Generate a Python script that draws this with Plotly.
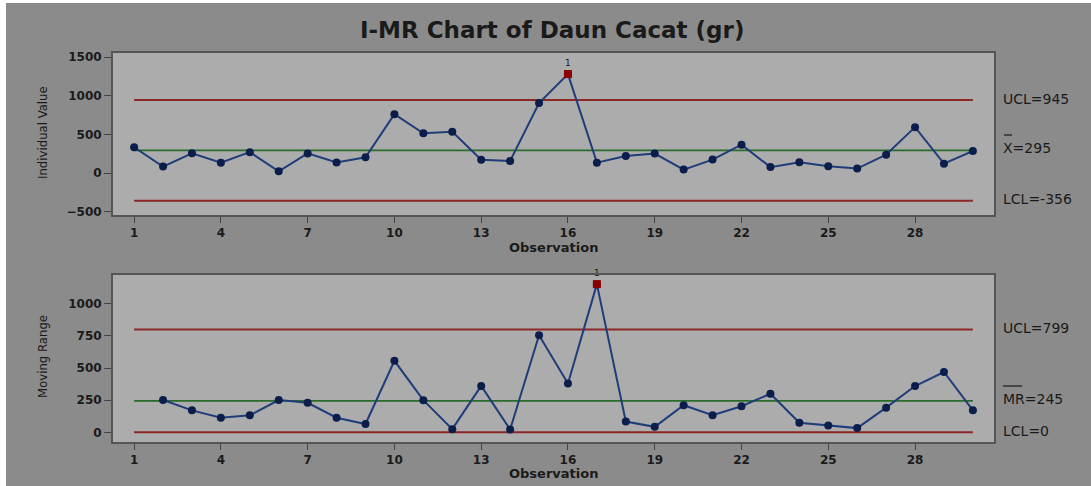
import plotly.graph_objects as go

# ---- data ----
observations = list(range(1, 31))
individual = [335, 86, 257, 137, 272, 26, 256, 138, 206, 762,
              516, 535, 175, 158, 907, 1280, 137, 222, 254, 47,
              176, 368, 79, 141, 90, 60, 240, 595, 124, 287]
mr_obs = list(range(2, 31))
moving_range = [251, 171, 114, 132, 251, 230, 114, 65, 556, 250,
                25, 361, 22, 755, 380, 1152, 84, 43, 211, 133,
                203, 300, 74, 54, 33, 192, 360, 469, 171]
i_limits = {"UCL": 945, "CL": 295, "LCL": -356}
mr_limits = {"UCL": 799, "CL": 245, "LCL": 0}
flag_i = [16]
flag_mr = [17]
xtick_vals = [1, 4, 7, 10, 13, 16, 19, 22, 25, 28]
i_yticks = [-500, 0, 500, 1000, 1500]
mr_yticks = [0, 250, 500, 750, 1000]

W, H = 1091, 486
L, R, T, B = 113, 97, 53, 44
PW, PH = W - L - R, H - T - B

def py(p):  # pixel y -> paper y
    return (H - B - p) / PH

def px(p):  # pixel x -> paper x
    return (p - L) / PW

OUTER = "#8b8b8b"
INNER = "#acacac"
LINE_C = "#1f3d7a"
MARK_C = "#0b1d4a"
RED = "#8b2727"
GREEN = "#2a6a2a"
TXT = "#1a1a1a"
DJ = "DejaVu Sans, Open Sans, sans-serif"
TICKFONT = dict(family=DJ, size=12, color=TXT, weight="bold")
NARROW = "Liberation Sans Narrow, DejaVu Sans Condensed, Arial Narrow, sans-serif"

fig = go.Figure()

# Individual chart
fig.add_trace(go.Scatter(x=observations, y=individual, mode="lines+markers",
                         line=dict(color=LINE_C, width=2),
                         marker=dict(color=MARK_C, size=8, symbol="circle"),
                         xaxis="x", yaxis="y", showlegend=False))
fig.add_trace(go.Scatter(x=flag_i, y=[individual[o - 1] for o in flag_i], mode="markers+text",
                         marker=dict(color="#8b0000", size=8, symbol="square"),
                         text=["1"] * len(flag_i), textposition="top center",
                         textfont=dict(size=9, color=TXT, family=DJ), cliponaxis=False,
                         xaxis="x", yaxis="y", showlegend=False))
# MR chart
fig.add_trace(go.Scatter(x=mr_obs, y=moving_range, mode="lines+markers",
                         line=dict(color=LINE_C, width=2),
                         marker=dict(color=MARK_C, size=8, symbol="circle"),
                         xaxis="x2", yaxis="y2", showlegend=False))
fig.add_trace(go.Scatter(x=flag_mr, y=[moving_range[o - 2] for o in flag_mr], mode="markers+text",
                         marker=dict(color="#8b0000", size=8, symbol="square"),
                         text=["1"] * len(flag_mr), textposition="top center",
                         textfont=dict(size=9, color=TXT, family=DJ), cliponaxis=False,
                         xaxis="x2", yaxis="y2", showlegend=False))

shapes = []
for key, col, w in (("UCL", RED, 2), ("CL", GREEN, 1.6), ("LCL", RED, 2)):
    shapes.append(dict(type="line", xref="x", yref="y", x0=1, x1=30,
                       y0=i_limits[key], y1=i_limits[key],
                       line=dict(color=col, width=w), layer="below"))
    shapes.append(dict(type="line", xref="x2", yref="y2", x0=1, x1=30,
                       y0=mr_limits[key], y1=mr_limits[key],
                       line=dict(color=col, width=w), layer="below"))
# white strips at left / top edge of the picture
shapes.append(dict(type="rect", xref="paper", yref="paper", x0=px(0), x1=px(6),
                   y0=py(H), y1=py(0), fillcolor="white", line=dict(width=0)))
shapes.append(dict(type="rect", xref="paper", yref="paper", x0=px(0), x1=px(W),
                   y0=py(3), y1=py(0), fillcolor="white", line=dict(width=0)))
# bars over X and MR
shapes.append(dict(type="line", xref="paper", yref="paper", x0=px(1004), x1=px(1012),
                   y0=py(135), y1=py(135), line=dict(color=TXT, width=1.2)))
shapes.append(dict(type="line", xref="paper", yref="paper", x0=px(1003), x1=px(1022),
                   y0=py(386), y1=py(386), line=dict(color=TXT, width=1.2)))

RFONT = dict(family=DJ, size=14, color=TXT)
ann = []
def right_label(text, yref, yval, shift=0):
    ann.append(dict(text=text, xref="paper", yref=yref, x=px(1001), y=yval,
                    xanchor="left", yanchor="middle", showarrow=False,
                    yshift=shift, font=RFONT))

right_label("UCL=945", "y", i_limits["UCL"], 1)
right_label("X=295", "y", i_limits["CL"], 2)
right_label("LCL=-356", "y", i_limits["LCL"], 2)
right_label("UCL=799", "y2", mr_limits["UCL"], 2)
right_label("MR=245", "y2", mr_limits["CL"], 2)
right_label("LCL=0", "y2", mr_limits["LCL"], 1)

for text, ypix in (("Individual Value", 133), ("Moving Range", 357)):
    ann.append(dict(text=text, xref="paper", yref="paper", x=px(42), y=py(ypix),
                    xanchor="center", yanchor="middle", textangle=-90, showarrow=False,
                    font=dict(family=NARROW, size=13, color=TXT)))
for ypix in (247, 474):
    ann.append(dict(text="Observation", xref="paper", yref="paper", x=px(553.5), y=py(ypix),
                    xanchor="center", yanchor="middle", showarrow=False,
                    font=dict(family=DJ, size=13, color=TXT, weight="bold")))
ann.append(dict(text="I-MR Chart of Daun Cacat (gr)", xref="paper", yref="paper",
                x=px(552), y=py(30), xanchor="center", yanchor="middle", showarrow=False,
                font=dict(family=DJ, size=23, color=TXT, weight="bold")))

xcommon = dict(range=[0.27, 30.73], tickvals=xtick_vals, ticks="outside", ticklen=6,
               tickcolor="#444", tickwidth=1, showline=True, linecolor="#555", linewidth=2,
               mirror=True, showgrid=False, zeroline=False, tickfont=TICKFONT)
ycommon = dict(ticks="outside", ticklen=7, tickcolor="#444", tickwidth=1, showline=True,
               linecolor="#555", linewidth=2, mirror=True, showgrid=False, zeroline=False,
               tickfont=TICKFONT)

fig.update_layout(
    width=W, height=H,
    margin=dict(l=L, r=R, t=T, b=B),
    paper_bgcolor=OUTER, plot_bgcolor=INNER,
    xaxis=dict(domain=[0, 1], anchor="y", **xcommon),
    yaxis=dict(domain=[py(215), 1], anchor="x", range=[-539, 1552], tickvals=i_yticks, **ycommon),
    xaxis2=dict(domain=[0, 1], anchor="y2", **xcommon),
    yaxis2=dict(domain=[0, py(275)], anchor="x2", range=[-75, 1223], tickvals=mr_yticks, **ycommon),
    shapes=shapes, annotations=ann, showlegend=False,
)

fig.write_html("out.html", config={"displayModeBar": False},
               post_script="document.body.style.margin='0';document.body.style.overflow='hidden';")
